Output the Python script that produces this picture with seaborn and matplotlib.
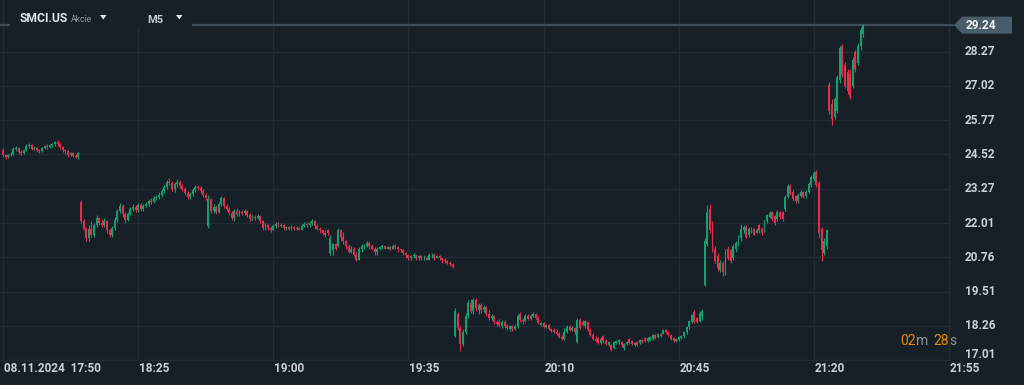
import matplotlib
matplotlib.use("Agg")
import matplotlib.pyplot as plt
import matplotlib.transforms as mtransforms
from matplotlib.patches import Polygon, Rectangle
import numpy as np
import seaborn as sns

# OHLC per candle (5 trading sessions back to back)
opens = [
    # session 1
    24.68, 24.49, 24.42, 24.49, 24.53, 24.71, 24.75, 24.60, 24.56, 24.68, 24.82, 24.86, 24.71, 24.75, 24.68,
    24.64, 24.75, 24.82, 24.78, 24.86, 24.89, 24.97, 24.89, 24.78, 24.68, 24.64, 24.49, 24.56, 24.46, 24.42,
    # session 2
    22.79, 22.10, 21.81, 21.45, 21.81, 21.59, 21.95, 22.21, 22.03, 21.95, 22.10, 21.74, 21.59, 21.84, 22.13,
    22.46, 22.64, 22.35, 22.13, 22.35, 22.53, 22.61, 22.50, 22.68, 22.53, 22.64, 22.72, 22.82, 22.79, 22.93,
    22.97, 23.04, 23.19, 23.33, 23.51, 23.48, 23.26, 23.44, 23.51, 23.37, 23.26, 23.12, 22.97, 23.08, 23.22,
    23.33, 23.30, 23.19, 23.04, 21.92, 22.90, 22.46, 22.61, 22.42, 22.72, 22.93, 22.64, 22.53, 22.39, 22.21,
    22.46, 22.35, 22.42, 22.39, 22.46, 22.32, 22.17, 22.24, 22.21, 22.28, 22.10, 21.84, 21.95, 21.84, 21.77,
    21.92, 21.99, 21.92, 21.95, 21.84, 21.88, 21.81, 21.88, 21.81, 21.84, 21.77, 21.92, 21.99, 21.95, 22.03,
    22.10, 21.92, 21.81, 21.74, 21.66, 21.74, 20.90, 21.01, 21.23, 21.19, 21.74, 21.52, 21.34, 21.16, 20.97,
    21.08, 20.86, 20.68, 21.05, 21.16, 21.19, 21.30, 21.16, 21.05, 20.94, 21.05, 21.12, 21.16, 21.08, 21.12,
    21.08, 21.19, 21.12, 21.05, 21.01, 20.90, 20.83, 20.72, 20.79, 20.83, 20.75, 20.79, 20.72, 20.75, 20.68,
    20.83, 20.86, 20.75, 20.79, 20.72, 20.65, 20.61, 20.57, 20.50,
    # session 3
    17.89, 18.69, 18.18, 17.60, 18.03, 18.61, 19.09, 18.80, 19.19, 18.83, 19.01, 18.83, 18.94, 18.69, 18.54,
    18.61, 18.40, 18.40, 18.25, 18.40, 18.25, 18.14, 18.25, 18.14, 18.25, 18.69, 18.47, 18.43, 18.61, 18.51,
    18.61, 18.69, 18.54, 18.29, 18.36, 18.21, 18.29, 18.14, 18.11, 18.03, 17.96, 17.85, 17.78, 18.03, 18.21,
    18.11, 18.18, 17.67, 18.47, 18.40, 18.25, 18.40, 18.11, 17.93, 17.78, 17.82, 17.63, 17.89, 17.71, 17.56,
    17.56, 17.45, 17.63, 17.67, 17.67, 17.45, 17.60, 17.78, 17.71, 17.56, 17.67, 17.63, 17.74, 17.82, 17.71,
    17.74, 17.78, 17.93, 17.85, 17.96, 17.96, 18.11, 18.03, 17.93, 17.82, 17.71, 17.74, 17.82, 17.89, 18.03,
    18.21, 18.40, 18.76, 18.54, 18.43, 18.61,
    # session 4
    19.74, 21.26, 22.53, 21.99, 21.08, 20.79, 20.28, 20.57, 20.14, 21.08, 21.01, 20.72, 21.08, 21.23, 21.45,
    21.74, 21.88, 21.59, 21.84, 21.81, 21.66, 21.95, 21.81, 21.74, 22.10, 22.24, 22.42, 22.28, 22.17, 22.42,
    22.42, 22.53, 22.97, 23.37, 23.15, 23.00, 22.82, 23.00, 23.15, 23.00, 23.15, 23.41, 23.62, 23.88, 23.48,
    21.81, 20.90, 21.16,
    # session 5
    27.07, 26.35, 25.87, 26.09, 27.25, 28.49, 27.80, 27.54, 27.47, 27.03, 28.27, 27.87, 28.49, 28.92,
]
highs = [
    24.75, 24.53, 24.53, 24.60, 24.78, 24.82, 24.78, 24.68, 24.71, 24.89, 24.93, 24.89, 24.82, 24.78, 24.71,
    24.78, 24.86, 24.89, 24.89, 24.93, 25.00, 25.04, 24.97, 24.82, 24.71, 24.68, 24.60, 24.60, 24.53, 24.60,
    22.86, 22.17, 21.88, 21.95, 22.10, 22.03, 22.32, 22.24, 22.17, 22.21, 22.13, 21.81, 21.92, 22.24, 22.53,
    22.75, 22.72, 22.42, 22.42, 22.61, 22.72, 22.68, 22.75, 22.75, 22.72, 22.79, 22.90, 22.93, 23.00, 23.04,
    23.15, 23.26, 23.41, 23.59, 23.66, 23.55, 23.51, 23.62, 23.59, 23.44, 23.33, 23.19, 23.15, 23.30, 23.41,
    23.41, 23.37, 23.26, 23.12, 23.04, 22.93, 22.72, 22.68, 22.79, 23.00, 22.97, 22.72, 22.61, 22.46, 22.53,
    22.57, 22.50, 22.50, 22.53, 22.50, 22.39, 22.32, 22.32, 22.35, 22.32, 22.13, 22.03, 21.99, 21.92, 21.99,
    22.06, 22.06, 22.03, 21.99, 21.92, 21.92, 21.95, 21.92, 21.92, 21.88, 21.99, 22.06, 22.06, 22.10, 22.17,
    22.13, 21.99, 21.88, 21.81, 21.74, 21.81, 21.56, 21.30, 21.30, 21.84, 21.81, 21.70, 21.41, 21.23, 21.16,
    21.12, 20.94, 21.12, 21.23, 21.26, 21.37, 21.34, 21.23, 21.12, 21.12, 21.19, 21.23, 21.19, 21.19, 21.16,
    21.23, 21.23, 21.16, 21.08, 21.05, 20.97, 20.86, 20.86, 20.90, 20.86, 20.86, 20.83, 20.83, 20.79, 20.90,
    20.90, 20.90, 20.86, 20.83, 20.75, 20.72, 20.65, 20.61, 20.54,
    18.90, 18.76, 18.25, 18.14, 18.72, 19.19, 19.23, 19.27, 19.27, 19.09, 19.09, 19.01, 18.98, 18.83, 18.69,
    18.65, 18.47, 18.51, 18.47, 18.47, 18.32, 18.29, 18.29, 18.32, 18.69, 18.76, 18.54, 18.69, 18.69, 18.69,
    18.76, 18.72, 18.61, 18.40, 18.40, 18.32, 18.32, 18.18, 18.18, 18.14, 18.03, 17.93, 18.18, 18.29, 18.29,
    18.25, 18.21, 18.54, 18.54, 18.47, 18.47, 18.43, 18.18, 18.00, 17.89, 17.85, 17.85, 17.93, 17.78, 17.71,
    17.60, 17.71, 17.74, 17.78, 17.71, 17.63, 17.71, 17.82, 17.74, 17.67, 17.71, 17.78, 17.78, 17.85, 17.85,
    17.89, 17.96, 17.96, 18.00, 18.00, 18.14, 18.14, 18.07, 17.96, 17.85, 17.82, 17.89, 17.93, 18.07, 18.25,
    18.47, 18.69, 18.83, 18.58, 18.80, 18.87,
    21.45, 22.68, 22.72, 22.10, 21.16, 20.90, 20.65, 20.61, 21.08, 21.16, 21.08, 21.23, 21.37, 21.56, 21.99,
    21.95, 21.95, 21.88, 21.88, 21.84, 21.84, 21.99, 21.88, 22.13, 22.35, 22.46, 22.46, 22.32, 22.50, 22.46,
    22.46, 23.04, 23.44, 23.44, 23.22, 23.04, 23.12, 23.22, 23.19, 23.22, 23.51, 23.77, 23.91, 23.95, 23.55,
    21.88, 21.45, 21.81,
    27.18, 26.53, 26.60, 27.40, 28.49, 28.56, 27.91, 27.62, 27.62, 28.09, 28.34, 28.60, 29.18, 29.29,
]
lows = [
    24.42, 24.35, 24.38, 24.46, 24.49, 24.64, 24.53, 24.49, 24.53, 24.64, 24.75, 24.68, 24.68, 24.60, 24.56,
    24.60, 24.71, 24.71, 24.75, 24.78, 24.82, 24.82, 24.71, 24.60, 24.53, 24.42, 24.46, 24.42, 24.38, 24.35,
    22.03, 21.74, 21.37, 21.37, 21.52, 21.52, 21.88, 21.95, 21.88, 21.88, 21.66, 21.52, 21.52, 21.77, 22.06,
    22.38, 22.24, 22.03, 22.10, 22.32, 22.46, 22.42, 22.42, 22.46, 22.46, 22.61, 22.64, 22.72, 22.75, 22.86,
    22.90, 22.97, 23.12, 23.26, 23.41, 23.19, 23.15, 23.33, 23.30, 23.19, 23.04, 22.90, 22.90, 23.00, 23.15,
    23.22, 23.12, 22.97, 22.86, 21.84, 22.38, 22.38, 22.35, 22.38, 22.64, 22.57, 22.46, 22.32, 22.13, 22.10,
    22.28, 22.28, 22.32, 22.32, 22.24, 22.10, 22.13, 22.13, 22.17, 22.03, 21.77, 21.77, 21.77, 21.70, 21.74,
    21.84, 21.88, 21.88, 21.77, 21.77, 21.74, 21.77, 21.77, 21.77, 21.74, 21.74, 21.88, 21.88, 21.88, 21.95,
    21.81, 21.74, 21.66, 21.59, 21.52, 21.56, 20.83, 20.86, 21.01, 21.12, 21.37, 21.26, 21.08, 20.90, 20.90,
    20.79, 20.61, 20.65, 20.97, 21.08, 21.12, 21.08, 21.01, 20.86, 20.86, 21.01, 21.08, 21.05, 21.05, 21.01,
    21.05, 21.05, 20.97, 20.94, 20.83, 20.75, 20.65, 20.68, 20.72, 20.68, 20.68, 20.65, 20.65, 20.65, 20.65,
    20.75, 20.68, 20.72, 20.65, 20.57, 20.54, 20.50, 20.43, 20.36,
    17.85, 18.11, 17.34, 17.53, 17.96, 18.54, 18.72, 18.69, 18.80, 18.69, 18.72, 18.76, 18.61, 18.47, 18.47,
    18.32, 18.25, 18.21, 18.18, 18.18, 18.11, 18.07, 18.07, 18.11, 18.18, 18.40, 18.32, 18.40, 18.47, 18.47,
    18.58, 18.51, 18.32, 18.25, 18.18, 18.18, 18.11, 18.03, 18.00, 17.93, 17.82, 17.74, 17.74, 18.00, 18.07,
    18.07, 17.96, 17.63, 18.14, 18.25, 18.18, 18.07, 17.89, 17.74, 17.67, 17.60, 17.60, 17.63, 17.56, 17.53,
    17.34, 17.42, 17.60, 17.60, 17.49, 17.38, 17.56, 17.60, 17.56, 17.53, 17.53, 17.60, 17.63, 17.67, 17.67,
    17.71, 17.74, 17.78, 17.82, 17.85, 17.96, 18.00, 17.89, 17.74, 17.67, 17.67, 17.71, 17.78, 17.82, 17.96,
    18.14, 18.36, 18.36, 18.36, 18.40, 18.47,
    19.70, 21.19, 21.66, 20.97, 20.54, 20.25, 20.21, 20.06, 20.10, 20.65, 20.54, 20.65, 20.97, 21.16, 21.37,
    21.66, 21.45, 21.52, 21.63, 21.56, 21.63, 21.66, 21.59, 21.70, 22.03, 22.21, 22.10, 21.95, 22.10, 22.17,
    22.10, 22.46, 22.93, 23.04, 22.82, 22.75, 22.75, 22.97, 22.93, 22.93, 23.12, 23.33, 23.55, 23.33, 21.45,
    20.61, 20.86, 21.08,
    25.98, 25.58, 25.80, 26.02, 27.11, 27.33, 26.96, 26.71, 26.53, 26.96, 27.51, 27.80, 28.34, 28.81,
]
closes = [
    24.49, 24.42, 24.49, 24.53, 24.71, 24.75, 24.60, 24.56, 24.68, 24.82, 24.86, 24.71, 24.75, 24.68, 24.64,
    24.75, 24.82, 24.78, 24.86, 24.89, 24.97, 24.89, 24.78, 24.68, 24.64, 24.49, 24.56, 24.46, 24.42, 24.56,
    22.10, 21.81, 21.45, 21.81, 21.59, 21.95, 22.21, 22.03, 21.95, 22.10, 21.74, 21.59, 21.84, 22.13, 22.46,
    22.64, 22.35, 22.13, 22.35, 22.53, 22.61, 22.50, 22.68, 22.53, 22.64, 22.72, 22.82, 22.79, 22.93, 22.97,
    23.04, 23.19, 23.33, 23.51, 23.48, 23.26, 23.44, 23.51, 23.37, 23.26, 23.12, 22.97, 23.08, 23.22, 23.33,
    23.30, 23.19, 23.04, 22.93, 22.90, 22.46, 22.61, 22.42, 22.72, 22.93, 22.64, 22.53, 22.39, 22.21, 22.46,
    22.35, 22.42, 22.39, 22.46, 22.32, 22.17, 22.24, 22.21, 22.28, 22.10, 21.84, 21.95, 21.84, 21.77, 21.92,
    21.99, 21.92, 21.95, 21.84, 21.88, 21.81, 21.88, 21.81, 21.84, 21.77, 21.92, 21.99, 21.95, 22.03, 22.10,
    21.92, 21.81, 21.74, 21.66, 21.59, 21.63, 21.48, 21.23, 21.08, 21.74, 21.52, 21.34, 21.16, 20.97, 21.08,
    20.86, 20.68, 21.05, 21.16, 21.19, 21.30, 21.16, 21.05, 20.94, 21.05, 21.12, 21.16, 21.08, 21.12, 21.08,
    21.19, 21.12, 21.05, 21.01, 20.90, 20.83, 20.72, 20.79, 20.83, 20.75, 20.79, 20.72, 20.75, 20.68, 20.83,
    20.86, 20.75, 20.79, 20.72, 20.65, 20.61, 20.57, 20.50, 20.39,
    18.80, 18.18, 17.60, 18.03, 18.61, 19.09, 18.80, 19.19, 18.90, 19.01, 18.83, 18.94, 18.69, 18.54, 18.61,
    18.40, 18.32, 18.29, 18.40, 18.25, 18.18, 18.25, 18.14, 18.25, 18.61, 18.47, 18.40, 18.61, 18.51, 18.61,
    18.69, 18.54, 18.36, 18.36, 18.21, 18.29, 18.14, 18.07, 18.03, 17.96, 17.85, 17.78, 18.03, 18.21, 18.11,
    18.18, 18.03, 18.47, 18.18, 18.29, 18.43, 18.11, 17.93, 17.78, 17.71, 17.63, 17.78, 17.71, 17.60, 17.67,
    17.38, 17.67, 17.71, 17.74, 17.56, 17.60, 17.67, 17.63, 17.60, 17.63, 17.56, 17.74, 17.67, 17.71, 17.82,
    17.85, 17.93, 17.82, 17.96, 17.89, 18.11, 18.03, 17.93, 17.78, 17.71, 17.78, 17.85, 17.89, 18.03, 18.21,
    18.43, 18.65, 18.40, 18.40, 18.72, 18.80,
    21.37, 22.42, 21.74, 21.08, 20.61, 20.36, 20.57, 20.21, 21.01, 20.72, 20.61, 21.16, 21.30, 21.45, 21.81,
    21.88, 21.52, 21.81, 21.66, 21.59, 21.77, 21.74, 21.63, 22.06, 22.32, 22.39, 22.17, 22.03, 22.42, 22.24,
    22.17, 22.97, 23.37, 23.08, 22.90, 22.82, 23.04, 23.15, 22.97, 23.15, 23.44, 23.70, 23.84, 23.41, 21.63,
    21.01, 21.37, 21.74,
    26.09, 25.80, 26.53, 27.33, 28.41, 27.40, 27.03, 26.82, 26.60, 27.98, 27.62, 28.49, 29.07, 29.24,
]

tick_pos = [0, 52, 104, 156, 208, 260, 312, 364]
tick_labels = ["08.11.2024  17:50", "18:25", "19:00", "19:35", "20:10", "20:45", "21:20", "21:55"]
price_ticks = [17.01, 18.26, 19.51, 20.76, 22.01, 23.27, 24.52, 25.77, 27.02, 28.27]
last_price = 29.24

BG = "#172027"
GRID = "#222c35"
UP = "#17a06e"
DOWN = "#e32f4c"
TXT = "#cdd1d5"
PRICE_LINE = "#3f4d58"

sns.set_theme(style="dark", rc={"axes.facecolor": BG, "figure.facecolor": BG})
plt.rcParams["font.family"] = ["Roboto", "DejaVu Sans"]

W, H = 1024, 385
fig = plt.figure(figsize=(W / 100, H / 100), dpi=100)
ax = fig.add_axes([0, 25 / H, 949 / W, 360 / H])
ax.set_facecolor(BG)

o = np.array(opens)
hi = np.array(highs)
lo = np.array(lows)
c = np.array(closes)
idx = np.arange(len(c))
cols = np.where(c >= o, UP, DOWN)

ax.vlines(idx, lo, hi, colors=cols, lw=0.8, zorder=3)
ax.bar(idx, np.maximum(np.abs(c - o), 0.03), bottom=np.minimum(o, c), width=0.75,
       color=cols, linewidth=0, zorder=4)

ax.set_xlim(-1.154, 363.85)
ax.set_ylim(17.09, 30.157)
ax.set_xticks(tick_pos)
ax.set_yticks(price_ticks)
ax.grid(True, color=GRID, lw=1)
ax.tick_params(labelbottom=False, labelleft=False, length=0)
for side in ["top", "left"]:
    ax.spines[side].set_visible(False)
for side in ["bottom", "right"]:
    ax.spines[side].set_visible(True)
    ax.spines[side].set_color(GRID)
    ax.spines[side].set_linewidth(1)

# current price line
ax.axhline(last_price, color=PRICE_LINE, lw=1.6, zorder=2)

LABEL_W = 600

# x labels
xtrans = mtransforms.blended_transform_factory(ax.transData, fig.transFigure)
for pos, lab in zip(tick_pos, tick_labels):
    ax.text(pos + 0.4, 17 / H, lab, transform=xtrans, ha="left", va="center",
            fontsize=8.5, color=TXT, fontweight=LABEL_W, clip_on=False)

# y labels on the right
ytrans = mtransforms.blended_transform_factory(fig.transFigure, ax.transData)
for p in price_ticks:
    tr = ytrans
    if p == price_ticks[0]:
        tr = mtransforms.offset_copy(ytrans, fig=fig, y=6, units="dots")
    ax.text(965 / W, p, f"{p:.2f}", transform=tr, ha="left", va="center",
            fontsize=8.5, color=TXT, fontweight=LABEL_W, clip_on=False)

# price tag
fig.canvas.draw()
ty = ax.transData.transform((0, last_price))[1]
ident = mtransforms.IdentityTransform()
tag = Polygon([(949, ty - 0.8), (954, ty - 0.8), (954, ty), (962, ty + 8.5), (1012, ty + 8.5),
               (1012, ty - 8.5), (962, ty - 8.5), (954, ty), (954, ty + 0.8), (949, ty + 0.8)],
              closed=True, transform=ident, facecolor="#495c69", edgecolor="none", zorder=10)
fig.add_artist(tag)
fig.text(966 / W, ty / H, f"{last_price:.2f}", ha="left", va="center", fontsize=8.5,
         color="#f2f4f5", fontweight=LABEL_W, zorder=11)

# header panel
fig.add_artist(Rectangle((10 / W, 1 - 28 / H), 182 / W, 28 / H, transform=fig.transFigure,
                         facecolor=BG, edgecolor="none", zorder=9))
fig.text(20 / W, 1 - 19 / H, "SMCI.US", ha="left", va="center", fontsize=8.7,
         fontweight="bold", color="#e4e7ea", zorder=11)
fig.text(71 / W, 1 - 19 / H, "Akcie", ha="left", va="center", fontsize=6.2,
         color="#8d98a2", zorder=11)
fig.text(147 / W, 1 - 20 / H, "M5", ha="left", va="center", fontsize=8,
         fontweight=LABEL_W, color="#c5cacf", zorder=11)
for x0 in (100, 176):
    fig.add_artist(Polygon([(x0, H - 15), (x0 + 6.5, H - 15), (x0 + 3.25, H - 19.5)], closed=True,
                           transform=ident, facecolor="#e4e7ea", edgecolor="none", zorder=11))

# candle countdown
ORANGE = "#e0870f"
GREY = "#8c949b"
for x0, s, col in [(900, "02", ORANGE), (916, "m", GREY), (933, "28", ORANGE), (949, "s", GREY)]:
    fig.text(x0 / W, 1 - 341 / H, s, ha="left", va="center", fontsize=10, color=col, zorder=11)

fig.savefig("out.png", dpi=100, facecolor=BG)
